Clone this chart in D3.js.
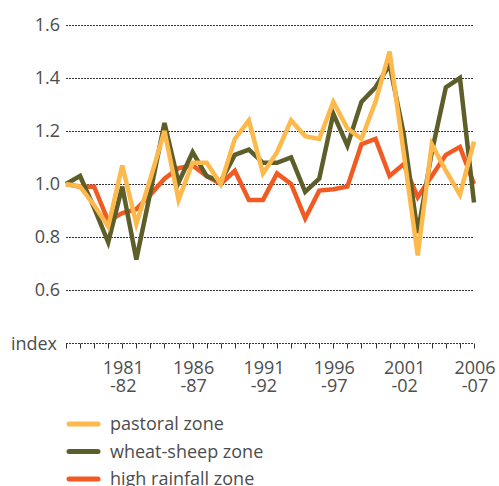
<!DOCTYPE html>
<html>
<head>
<meta charset="utf-8">
<script src="https://cdn.jsdelivr.net/npm/d3@7"></script>
<style>
  body { margin: 0; background: #fff; }
  text { font-family: "Open Sans", "Noto Sans", sans-serif; fill: #4d4d4d; }
</style>
</head>
<body>
<div id="chart"></div>
<script>
// financial years 1977-78 .. 2006-07
var years = d3.range(1977, 2007);
var tickYears = [1981, 1986, 1991, 1996, 2001, 2006];
var yTicks = [0.6, 0.8, 1.0, 1.2, 1.4, 1.6];

var pastoral = [1.00, 0.99, 0.92, 0.84, 1.07, 0.85, 1.02, 1.20, 0.94, 1.08,
                1.08, 1.00, 1.17, 1.24, 1.04, 1.12, 1.24, 1.18, 1.17, 1.31,
                1.21, 1.17, 1.31, 1.50, 1.12, 0.73, 1.15, 1.05, 0.96, 1.16];
var wheatSheep = [1.00, 1.03, 0.91, 0.78, 0.99, 0.715, 0.97, 1.23, 1.005, 1.12,
                  1.03, 1.01, 1.11, 1.13, 1.08, 1.08, 1.10, 0.97, 1.02, 1.265,
                  1.145, 1.31, 1.365, 1.45, 1.19, 0.815, 1.12, 1.365, 1.40, 0.93];
var highRainfall = [1.00, 0.99, 0.99, 0.86, 0.89, 0.905, 0.96, 1.02, 1.06, 1.07,
                    1.03, 1.00, 1.05, 0.94, 0.94, 1.04, 1.00, 0.87, 0.975, 0.98,
                    0.99, 1.15, 1.17, 1.03, 1.075, 0.95, 1.03, 1.11, 1.14, 1.00];

var series = [
  {name: "pastoral zone", values: pastoral, color: "#fdb94b"},
  {name: "wheat-sheep zone", values: wheatSheep, color: "#5e5e2a"},
  {name: "high rainfall zone", values: highRainfall, color: "#f15a22"}
];

var w = 499, h = 486;
var svg = d3.select("#chart").append("svg")
  .attr("width", w)
  .attr("height", h);

var x = d3.scalePoint()
  .domain(years)
  .range([66, 474]);

var y = d3.scaleLinear()
  .domain([0.4, 1.6])
  .range([343, 25]);

// gridlines
svg.append("g").selectAll("line")
  .data(yTicks)
  .join("line")
  .attr("x1", 66).attr("x2", 474)
  .attr("y1", d => Math.round(y(d)) + 0.5)
  .attr("y2", d => Math.round(y(d)) + 0.5)
  .attr("stroke", "#333")
  .attr("stroke-width", 1)
  .attr("stroke-dasharray", "2,1");

svg.append("g").selectAll("text")
  .data(yTicks)
  .join("text")
  .attr("x", 60)
  .attr("y", d => y(d))
  .attr("dy", "0.36em")
  .attr("text-anchor", "end")
  .attr("font-size", "18px")
  .text(d => d.toFixed(1));

// bottom axis, dotted with ticks
var axisY = Math.round(y(0.4)) + 0.5;
svg.append("line")
  .attr("x1", 66).attr("x2", 474)
  .attr("y1", axisY).attr("y2", axisY)
  .attr("stroke", "#333")
  .attr("stroke-dasharray", "2,1");

svg.append("g").selectAll("line")
  .data(years)
  .join("line")
  .attr("x1", d => Math.round(x(d)) + 0.5)
  .attr("x2", d => Math.round(x(d)) + 0.5)
  .attr("y1", axisY)
  .attr("y2", axisY + 5)
  .attr("stroke", "#333");

svg.append("text")
  .attr("x", 57)
  .attr("y", axisY)
  .attr("dy", "0.36em")
  .attr("text-anchor", "end")
  .attr("font-size", "18px")
  .text("index");

var xl = svg.append("g").selectAll("text")
  .data(tickYears)
  .join("text")
  .attr("text-anchor", "middle")
  .attr("font-size", "18px");
xl.append("tspan")
  .attr("x", d => x(d) + 1)
  .attr("y", 374)
  .text(d => d);
xl.append("tspan")
  .attr("x", d => x(d) + 1)
  .attr("y", 392)
  .text(d => "-" + String(d + 1).slice(2));

// lines, high rainfall at the bottom
var line = d3.line()
  .x((d, i) => x(years[i]))
  .y(d => y(d));

svg.append("g").selectAll("path")
  .data(series.slice().reverse())
  .join("path")
  .attr("d", d => line(d.values))
  .attr("fill", "none")
  .attr("stroke", d => d.color)
  .attr("stroke-width", 4.5);

// legend
var lg = svg.append("g").selectAll("g")
  .data(series)
  .join("g")
  .attr("transform", (d, i) => "translate(0," + (424 + i * 27.5) + ")");
lg.append("line")
  .attr("x1", 69).attr("x2", 98)
  .attr("stroke", d => d.color)
  .attr("stroke-width", 5)
  .attr("stroke-linecap", "round");
lg.append("text")
  .attr("x", 110)
  .attr("dy", "0.36em")
  .attr("font-size", "18px")
  .text(d => d.name);
</script>
</body>
</html>
